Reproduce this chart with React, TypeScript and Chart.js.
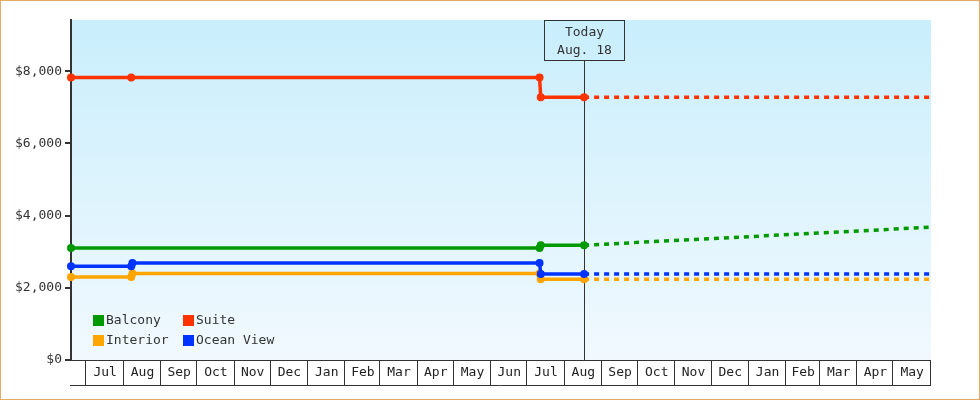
import React, { useEffect, useRef } from "react";
import { Chart, registerables } from "chart.js";

Chart.register(...registerables);

// ---- data ----
const SERIES_NAMES = ["Balcony", "Suite", "Interior", "Ocean View"];
const SERIES_COLORS = ["#009900", "#ff3300", "#ffa500", "#0033ff"];

const BALCONY_DATES = ["2023-06-19", "2024-07-12", "2024-07-13", "2024-08-18", "2025-06-02"];
const BALCONY_VALUES = [3100, 3100, 3180, 3180, 3680];

const SUITE_DATES = ["2023-06-19", "2023-08-08", "2024-07-12", "2024-07-13", "2024-08-18", "2025-06-02"];
const SUITE_VALUES = [7830, 7830, 7830, 7280, 7280, 7280];

const INTERIOR_DATES = ["2023-06-19", "2023-08-08", "2023-08-09", "2024-07-12", "2024-07-13", "2024-08-18", "2025-06-02"];
const INTERIOR_VALUES = [2300, 2300, 2400, 2400, 2240, 2240, 2240];

const OCEAN_DATES = ["2023-06-19", "2023-08-08", "2023-08-09", "2024-07-12", "2024-07-13", "2024-08-18", "2025-06-02"];
const OCEAN_VALUES = [2600, 2600, 2690, 2690, 2380, 2380, 2380];

const TODAY = "2024-08-18";
const TODAY_LABEL = ["Today", "Aug. 18"];
const X_MIN = "2023-06-19";
const X_MAX = "2025-06-02";
const FIRST_MONTH = "2023-07-01";
const MONTH_LABELS = [
  "Jul", "Aug", "Sep", "Oct", "Nov", "Dec", "Jan", "Feb", "Mar", "Apr", "May", "Jun",
  "Jul", "Aug", "Sep", "Oct", "Nov", "Dec", "Jan", "Feb", "Mar", "Apr", "May",
];
const Y_TICKS = [0, 2000, 4000, 6000, 8000];
const Y_MAX = 9420;

const FONT = "'DejaVu Sans Mono', monospace";
const INK = "#333333";

const t = (s: string) => new Date(s).getTime();
const todayMs = t(TODAY);

function pts(dates: string[], values: number[]) {
  return dates.map((d, i) => ({ x: t(d), y: values[i] }));
}

function monthStarts(): number[] {
  const d0 = new Date(FIRST_MONTH);
  const out: number[] = [];
  for (let i = 0; i <= MONTH_LABELS.length; i++) {
    out.push(Date.UTC(d0.getUTCFullYear(), d0.getUTCMonth() + i, 1));
  }
  return out;
}

const bgPlugin = {
  id: "bgGrad",
  beforeDraw(chart: any) {
    const { ctx, chartArea: a } = chart;
    const g = ctx.createLinearGradient(0, a.top, 0, a.bottom);
    g.addColorStop(0, "#c9eefc");
    g.addColorStop(1, "#f1f9fe");
    ctx.save();
    ctx.fillStyle = g;
    ctx.fillRect(a.left, a.top, a.right - a.left, a.bottom - a.top);
    ctx.restore();
  },
};

const todayPlugin = {
  id: "today",
  beforeDatasetsDraw(chart: any) {
    const { ctx, chartArea: a, scales } = chart;
    const x = Math.round(scales.x.getPixelForValue(todayMs)) + 0.5;
    const boxTop = a.top + 0.5;
    const boxH = 40;
    ctx.save();
    ctx.strokeStyle = INK;
    ctx.lineWidth = 1;
    ctx.beginPath();
    ctx.moveTo(x, boxTop + boxH);
    ctx.lineTo(x, a.bottom);
    ctx.stroke();
    ctx.strokeRect(x - 40, boxTop, 80, boxH);
    ctx.fillStyle = INK;
    ctx.font = `13px ${FONT}`;
    ctx.textAlign = "center";
    ctx.textBaseline = "middle";
    ctx.fillText(TODAY_LABEL[0], x, boxTop + 12);
    ctx.fillText(TODAY_LABEL[1], x, boxTop + 30);
    ctx.restore();
  },
};

const monthPlugin = {
  id: "months",
  afterDraw(chart: any) {
    const { ctx, chartArea: a, scales } = chart;
    const xs = scales.x;
    const top = a.bottom;
    const bottom = a.bottom + 25;
    ctx.save();
    ctx.strokeStyle = INK;
    ctx.lineWidth = 1;
    ctx.beginPath();
    ctx.moveTo(a.left, top + 0.5);
    ctx.lineTo(a.right, top + 0.5);
    ctx.moveTo(a.left - 1, bottom + 0.5);
    ctx.lineTo(a.right, bottom + 0.5);
    const starts = monthStarts();
    const bounds = starts.map((m) => Math.min(xs.getPixelForValue(m), a.right));
    bounds.forEach((px) => {
      const bx = Math.round(px) + 0.5;
      ctx.moveTo(bx, top);
      ctx.lineTo(bx, bottom);
    });
    ctx.stroke();
    ctx.fillStyle = "#222";
    ctx.font = `13px ${FONT}`;
    ctx.textAlign = "center";
    ctx.textBaseline = "middle";
    MONTH_LABELS.forEach((lab, i) => {
      const cx = (bounds[i] + bounds[i + 1]) / 2 + 1;
      ctx.fillText(lab, cx, top + 13);
    });
    ctx.restore();
  },
};

const legendPlugin = {
  id: "boxLegend",
  afterDraw(chart: any) {
    const { ctx, chartArea: a } = chart;
    const cols = [a.left + 22, a.left + 112];
    const rows = [a.bottom - 45, a.bottom - 25];
    ctx.save();
    ctx.font = `13px ${FONT}`;
    ctx.textBaseline = "middle";
    ctx.textAlign = "left";
    SERIES_NAMES.forEach((name, i) => {
      const x = cols[i % 2];
      const y = rows[Math.floor(i / 2)];
      ctx.fillStyle = SERIES_COLORS[i];
      ctx.fillRect(x, y, 11, 11);
      ctx.fillStyle = INK;
      ctx.fillText(name, x + 13, y + 6);
    });
    ctx.restore();
  },
};

function makeDataset(idx: number, data: { x: number; y: number }[], order: number) {
  return {
    label: SERIES_NAMES[idx],
    data,
    borderColor: SERIES_COLORS[idx],
    backgroundColor: SERIES_COLORS[idx],
    pointBackgroundColor: SERIES_COLORS[idx],
    pointBorderColor: SERIES_COLORS[idx],
    borderWidth: 3.5,
    pointRadius: (c: any) => (c.raw && c.raw.x > todayMs ? 0 : 4),
    pointBorderWidth: 0,
    tension: 0,
    clip: false,
    order,
    segment: {
      borderDash: (c: any) => (c.p0.parsed.x >= todayMs ? [5, 5] : undefined),
    },
  };
}

export default function App() {
  const ref = useRef<HTMLCanvasElement | null>(null);

  useEffect(() => {
    document.body.style.margin = "0";
    const canvas = ref.current;
    if (!canvas) return;
    const chart = new Chart(canvas, {
      type: "line",
      data: {
        datasets: [
          makeDataset(3, pts(OCEAN_DATES, OCEAN_VALUES), 0),
          makeDataset(2, pts(INTERIOR_DATES, INTERIOR_VALUES), 1),
          makeDataset(0, pts(BALCONY_DATES, BALCONY_VALUES), 2),
          makeDataset(1, pts(SUITE_DATES, SUITE_VALUES), 3),
        ] as any,
      },
      options: {
        animation: false,
        responsive: false,
        devicePixelRatio: 1,
        layout: { padding: { top: 20, right: 49, bottom: 40, left: 0 } },
        plugins: { legend: { display: false }, tooltip: { enabled: false } },
        scales: {
          x: { type: "linear", display: false, min: t(X_MIN), max: t(X_MAX) },
          y: {
            type: "linear",
            min: 0,
            max: Y_MAX,
            afterFit: (s: any) => {
              s.width = 71;
            },
            afterBuildTicks: (s: any) => {
              s.ticks = Y_TICKS.map((v) => ({ value: v }));
            },
            ticks: {
              font: { family: FONT, size: 13 },
              color: INK,
              padding: 3,
              callback: (v: any) => "$" + Number(v).toLocaleString("en-US"),
            },
            grid: { drawOnChartArea: false, color: INK, lineWidth: 2, tickLength: 6 },
            border: { color: INK, width: 2 },
          },
        },
      } as any,
      plugins: [bgPlugin, todayPlugin, monthPlugin, legendPlugin],
    });
    return () => chart.destroy();
  }, []);

  return (
    <div style={{ position: "absolute", left: 0, top: 0, width: 980, height: 400, background: "#fff" }}>
      <canvas ref={ref} width={980} height={400} style={{ position: "absolute", left: 0, top: 0 }} />
      <div
        style={{
          position: "absolute",
          left: 0,
          top: 0,
          width: 980,
          height: 400,
          boxSizing: "border-box",
          border: "1px solid #e6a964",
          pointerEvents: "none",
        }}
      />
    </div>
  );
}
